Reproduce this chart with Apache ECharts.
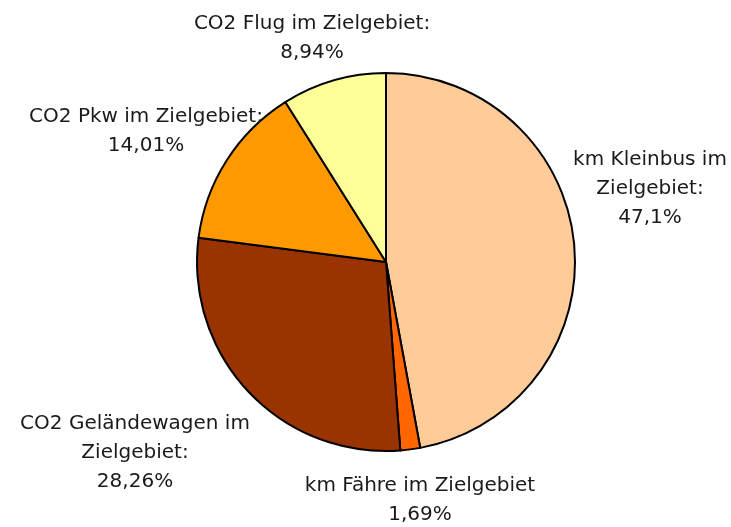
<!DOCTYPE html>
<html>
<head>
<meta charset="utf-8">
<script src="https://cdn.jsdelivr.net/npm/echarts@6/dist/echarts.min.js"></script>
<style>html,body{margin:0;padding:0;background:#fff}#c{width:731px;height:527px}</style>
</head>
<body>
<div id="c"></div>
<script>
var categories = ['km Kleinbus im\nZielgebiet:', 'km Fähre im Zielgebiet', 'CO2 Geländewagen im\nZielgebiet:', 'CO2 Pkw im Zielgebiet:', 'CO2 Flug im Zielgebiet:'];
var values = [47.1, 1.69, 28.26, 14.01, 8.94];
var colors = ['#FFCC99', '#FF6600', '#993300', '#FF9900', '#FFFF99'];
var labelPos = [[650, 189], [420, 500], [135, 453], [146, 131], [312, 38]];

var chart = echarts.init(document.getElementById('c'), null, {renderer: 'canvas'});
chart.setOption({
  animation: false,
  series: [{
    type: 'pie',
    center: [386, 262],
    radius: 189,
    startAngle: 90,
    clockwise: true,
    silent: true,
    data: categories.map(function (n, i) {
      return {name: n, value: values[i], itemStyle: {color: colors[i]}};
    }),
    itemStyle: {borderColor: '#000', borderWidth: 2},
    label: {
      show: true,
      position: 'outside',
      overflow: 'none',
      color: '#1a1a1a',
      fontFamily: 'DejaVu Sans',
      fontSize: 20,
      lineHeight: 29,
      align: 'center',
      verticalAlign: 'middle',
      formatter: function (p) {
        return p.name + '\n' + String(p.value).replace('.', ',') + '%';
      }
    },
    labelLine: {show: false},
    labelLayout: function (p) {
      var pos = labelPos[p.dataIndex];
      return {x: pos[0], y: pos[1], align: 'center', verticalAlign: 'middle', hideOverlap: false};
    }
  }]
});
</script>
</body>
</html>
